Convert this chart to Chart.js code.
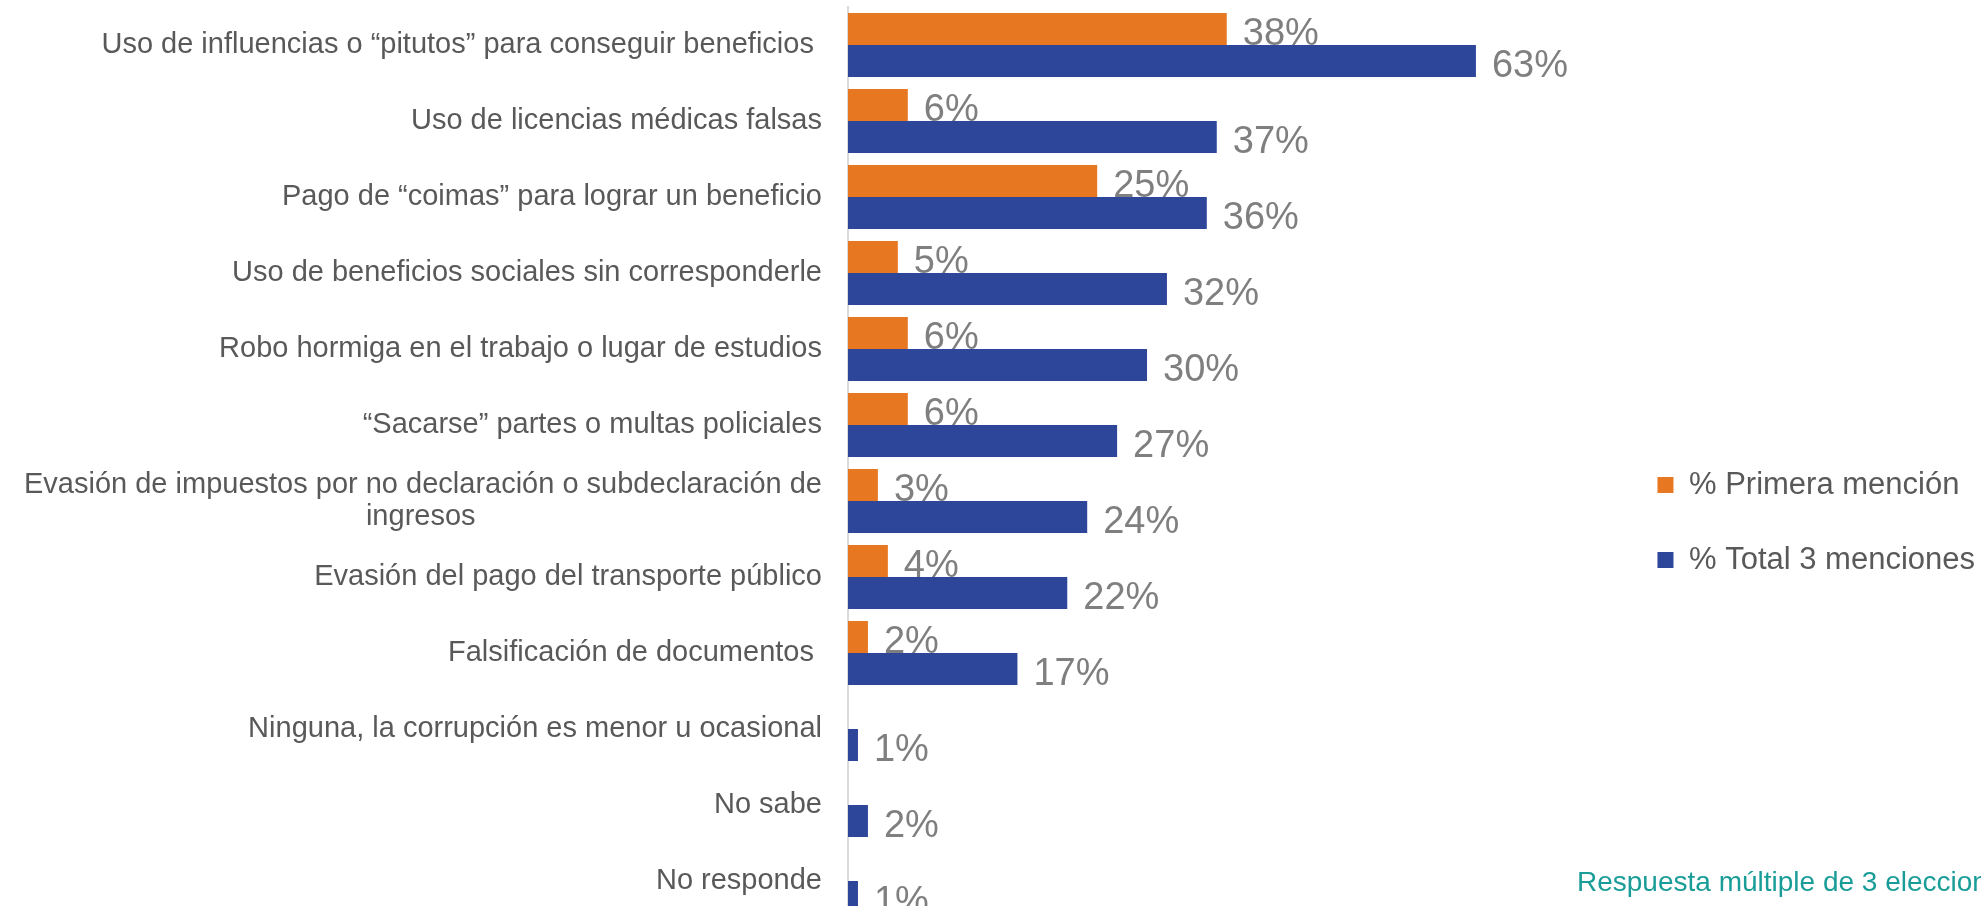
<!DOCTYPE html>
<html>
<head>
<meta charset="utf-8">
<script src="https://cdn.jsdelivr.net/npm/chart.js@4.4.1/dist/chart.umd.min.js"></script>
<style>
  html, body { margin: 0; padding: 0; background: #fff; overflow: hidden; width: 1981px; height: 906px; }
  #wrap { position: absolute; left: 0; top: 0; width: 1985px; height: 1038px; }
  #note { position: absolute; left: 1577px; top: 868px; font: 28px "Liberation Sans", Arial, sans-serif;
          color: #1a9d98; white-space: nowrap; line-height: 28px; }
</style>
</head>
<body>
<div id="wrap"><canvas id="chart"></canvas></div>
<div id="note">Respuesta múltiple de 3 elecciones</div>
<script>
var categories = [
    'Uso de influencias o “pitutos” para conseguir beneficios ',
    'Uso de licencias médicas falsas',
    'Pago de “coimas” para lograr un beneficio',
    'Uso de beneficios sociales sin corresponderle',
    'Robo hormiga en el trabajo o lugar de estudios',
    '“Sacarse” partes o multas policiales',
    ['Evasión de impuestos por no declaración o subdeclaración de', 'ingresos' + '\u00a0'.repeat(43)],
    'Evasión del pago del transporte público',
    'Falsificación de documentos ',
    'Ninguna, la corrupción es menor u ocasional',
    'No sabe',
    'No responde'
];
var primeraMencion = [38, 6, 25, 5, 6, 6, 3, 4, 2, null, null, null];
var totalMenciones = [63, 37, 36, 32, 30, 27, 24, 22, 17, 1, 2, 1];
var seriesNames = ['% Primera mención', '% Total 3 menciones'];

Chart.defaults.font.family = '"Liberation Sans", Arial, sans-serif';

// percentage labels at the end of each bar
const barLabels = {
    id: 'barLabels',
    afterDatasetsDraw(chart) {
        const ctx = chart.ctx;
        ctx.save();
        ctx.font = '38px "Liberation Sans", Arial, sans-serif';
        ctx.fillStyle = '#7f7f7f';
        ctx.textAlign = 'left';
        ctx.textBaseline = 'middle';
        chart.data.datasets.forEach((ds, di) => {
            const meta = chart.getDatasetMeta(di);
            meta.data.forEach((bar, i) => {
                const v = ds.data[i];
                if (v === null || v === undefined) return;
                ctx.fillText(v + '%', bar.x + 16, bar.y + 6);
            });
        });
        ctx.restore();
    }
};

const ctx = document.getElementById('chart').getContext('2d');
var mychart = new Chart(ctx, {
    type: 'bar',
    data: {
        labels: categories,
        datasets: [
            {
                label: seriesNames[0],
                data: primeraMencion,
                backgroundColor: '#e87722',
                categoryPercentage: 0.842,
                barPercentage: 1.0
            },
            {
                label: seriesNames[1],
                data: totalMenciones,
                backgroundColor: '#2e469a',
                categoryPercentage: 0.842,
                barPercentage: 1.0
            }
        ]
    },
    options: {
        indexAxis: 'y',
        responsive: true,
        maintainAspectRatio: false,
        animation: false,
        layout: { padding: { top: 7, left: 0, right: 0, bottom: 0 } },
        scales: {
            x: {
                min: 0,
                max: 76.8,
                ticks: { display: false },
                grid: { display: false, drawTicks: false },
                border: { display: false },
                afterFit: function (scale) { scale.height = 119; }
            },
            y: {
                ticks: {
                    autoSkip: false,
                    padding: 26,
                    color: '#595959',
                    font: { size: 29, lineHeight: 1.1 }
                },
                grid: { display: false, drawTicks: false },
                border: { display: true, color: '#d9d9d9', width: 2 },
                afterFit: function (scale) {
                    scale.width = 848;
                    scale.paddingTop = 0;
                    scale.paddingBottom = 0;
                }
            }
        },
        plugins: {
            legend: {
                position: 'right',
                align: 'center',
                labels: {
                    boxWidth: 16,
                    boxHeight: 16,
                    padding: 44,
                    color: '#595959',
                    font: { size: 31 }
                }
            },
            tooltip: { enabled: false }
        }
    },
    plugins: [barLabels]
});
</script>
</body>
</html>
